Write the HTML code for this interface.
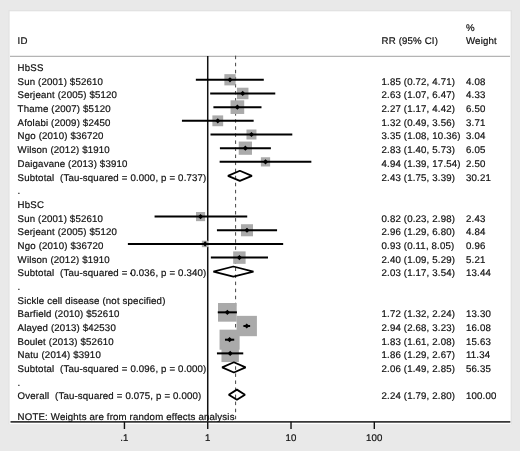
<!DOCTYPE html>
<html><head><meta charset="utf-8"><title>Forest plot</title><style>
html,body{margin:0;padding:0;background:#e9e9e9;overflow:hidden;}
svg{display:block;will-change:transform;}
text{-webkit-font-smoothing:antialiased;white-space:pre;}
</style></head><body>
<svg width="520" height="451" viewBox="0 0 520 451">
<g>
<rect x="0" y="0" width="520" height="451" fill="#e9e9e9"/>
<rect x="8.5" y="10" width="503.5" height="414.2" fill="#e2e2e2"/>
<rect x="9.6" y="11.3" width="501" height="412.9" fill="#ffffff"/>
<line x1="10" y1="56.3" x2="510" y2="56.3" stroke="#b4b4b4" stroke-width="1.2"/>
<line x1="207.73" y1="56" x2="207.73" y2="422" stroke="#111" stroke-width="1.5"/>
<line x1="235.6" y1="55.7" x2="235.6" y2="421" stroke="#444" stroke-width="1.0" stroke-dasharray="3.5 3.56"/>
<rect x="206.9" y="241" width="1.8" height="6" fill="#fff"/>
<g fill="#aaaaaa"><rect x="224.37" y="74.16" width="11.23" height="11.23"/><rect x="236.95" y="87.71" width="11.51" height="11.51"/><rect x="230.56" y="100.31" width="13.65" height="13.65"/><rect x="212.37" y="115.42" width="10.80" height="10.80"/><rect x="246.48" y="129.52" width="9.97" height="9.97"/><rect x="238.74" y="141.56" width="13.24" height="13.24"/><rect x="260.90" y="157.25" width="9.23" height="9.23"/><rect x="195.99" y="212.02" width="9.12" height="9.12"/><rect x="240.96" y="224.23" width="12.05" height="12.05"/><rect x="201.87" y="240.70" width="6.48" height="6.48"/><rect x="233.18" y="251.40" width="12.43" height="12.43"/><rect x="218.01" y="303.01" width="18.67" height="18.67"/><rect x="236.58" y="315.86" width="20.33" height="20.33"/><rect x="219.56" y="329.67" width="20.07" height="20.07"/><rect x="221.48" y="344.69" width="17.39" height="17.39"/></g>
<g stroke="#000" stroke-width="2"><line x1="195.85" y1="79.78" x2="263.79" y2="79.78"/><line x1="210.18" y1="93.46" x2="275.27" y2="93.46"/><line x1="213.41" y1="107.14" x2="261.49" y2="107.14"/><line x1="181.93" y1="120.82" x2="253.66" y2="120.82"/><line x1="210.51" y1="134.50" x2="292.30" y2="134.50"/><line x1="219.90" y1="148.18" x2="270.88" y2="148.18"/><line x1="219.64" y1="161.86" x2="311.35" y2="161.86"/><line x1="154.57" y1="216.58" x2="247.23" y2="216.58"/><line x1="216.94" y1="230.26" x2="277.07" y2="230.26"/><line x1="127.89" y1="243.94" x2="283.17" y2="243.94"/><line x1="210.85" y1="257.62" x2="267.99" y2="257.62"/><line x1="217.77" y1="312.34" x2="236.90" y2="312.34"/><line x1="243.39" y1="326.02" x2="250.14" y2="326.02"/><line x1="224.96" y1="339.70" x2="234.22" y2="339.70"/><line x1="216.94" y1="353.38" x2="243.25" y2="353.38"/></g>
<g fill="#000"><path d="M227.38 79.78L229.98 77.18L232.58 79.78L229.98 82.38Z"/><path d="M240.11 93.46L242.71 90.86L245.31 93.46L242.71 96.06Z"/><path d="M234.78 107.14L237.38 104.54L239.98 107.14L237.38 109.74Z"/><path d="M215.17 120.82L217.77 118.22L220.37 120.82L217.77 123.42Z"/><path d="M248.86 134.50L251.46 131.90L254.06 134.50L251.46 137.10Z"/><path d="M242.76 148.18L245.36 145.58L247.96 148.18L245.36 150.78Z"/><path d="M262.91 161.86L265.51 159.26L268.11 161.86L265.51 164.46Z"/><path d="M197.95 216.58L200.55 213.98L203.15 216.58L200.55 219.18Z"/><path d="M244.38 230.26L246.98 227.66L249.58 230.26L246.98 232.86Z"/><path d="M202.50 243.94L205.10 241.34L207.70 243.94L205.10 246.54Z"/><path d="M236.80 257.62L239.40 255.02L242.00 257.62L239.40 260.22Z"/><path d="M224.75 312.34L227.35 309.74L229.95 312.34L227.35 314.94Z"/><path d="M244.14 326.02L246.74 323.42L249.34 326.02L246.74 328.62Z"/><path d="M226.99 339.70L229.59 337.10L232.19 339.70L229.59 342.30Z"/><path d="M227.58 353.38L230.18 350.78L232.78 353.38L230.18 355.98Z"/></g>
<g fill="none" stroke="#000" stroke-width="1.8" stroke-linejoin="bevel"><path d="M227.97 175.84L239.85 170.74L251.89 175.84L239.85 180.94Z"/><path d="M213.41 271.60L233.34 266.50L253.46 271.60L233.34 276.70Z"/><path d="M222.15 367.36L233.87 362.26L245.61 367.36L233.87 372.46Z"/><path d="M228.79 394.72L236.90 389.62L244.97 394.72L236.90 399.82Z"/></g>
<circle cx="130.9" cy="273.4" r="0.9" fill="#111"/>
<line x1="10.5" y1="421.8" x2="510.3" y2="421.8" stroke="#383838" stroke-width="1.8"/>
<g stroke="#111" stroke-width="1.4"><line x1="124.44" y1="421.8" x2="124.44" y2="429"/><line x1="207.73" y1="421.8" x2="207.73" y2="429"/><line x1="291.02" y1="421.8" x2="291.02" y2="429"/><line x1="374.31" y1="421.8" x2="374.31" y2="429"/></g>
<g class="t" font-family="Liberation Sans, sans-serif" font-size="9.7" letter-spacing="0.15" fill="#111" stroke="#111" stroke-width="0.2">
<text x="17.60" y="71.10" transform="translate(0 71.10) skewX(0.3) translate(0 -71.10)">HbSS</text>
<text x="17.60" y="84.78" transform="translate(0 84.78) skewX(0.3) translate(0 -84.78)">Sun (2001) $52610</text>
<text x="381.50" y="84.78" transform="translate(0 84.78) skewX(0.3) translate(0 -84.78)">1.85 (0.72, 4.71)</text>
<text x="466.00" y="84.78" transform="translate(0 84.78) skewX(0.3) translate(0 -84.78)">4.08</text>
<text x="17.60" y="98.46" transform="translate(0 98.46) skewX(0.3) translate(0 -98.46)">Serjeant (2005) $5120</text>
<text x="381.50" y="98.46" transform="translate(0 98.46) skewX(0.3) translate(0 -98.46)">2.63 (1.07, 6.47)</text>
<text x="466.00" y="98.46" transform="translate(0 98.46) skewX(0.3) translate(0 -98.46)">4.33</text>
<text x="17.60" y="112.14" transform="translate(0 112.14) skewX(0.3) translate(0 -112.14)">Thame (2007) $5120</text>
<text x="381.50" y="112.14" transform="translate(0 112.14) skewX(0.3) translate(0 -112.14)">2.27 (1.17, 4.42)</text>
<text x="466.00" y="112.14" transform="translate(0 112.14) skewX(0.3) translate(0 -112.14)">6.50</text>
<text x="17.60" y="125.82" transform="translate(0 125.82) skewX(0.3) translate(0 -125.82)">Afolabi (2009) $2450</text>
<text x="381.50" y="125.82" transform="translate(0 125.82) skewX(0.3) translate(0 -125.82)">1.32 (0.49, 3.56)</text>
<text x="466.00" y="125.82" transform="translate(0 125.82) skewX(0.3) translate(0 -125.82)">3.71</text>
<text x="17.60" y="139.50" transform="translate(0 139.50) skewX(0.3) translate(0 -139.50)">Ngo (2010) $36720</text>
<text x="381.50" y="139.50" transform="translate(0 139.50) skewX(0.3) translate(0 -139.50)">3.35 (1.08, 10.36)</text>
<text x="466.00" y="139.50" transform="translate(0 139.50) skewX(0.3) translate(0 -139.50)">3.04</text>
<text x="17.60" y="153.18" transform="translate(0 153.18) skewX(0.3) translate(0 -153.18)">Wilson (2012) $1910</text>
<text x="381.50" y="153.18" transform="translate(0 153.18) skewX(0.3) translate(0 -153.18)">2.83 (1.40, 5.73)</text>
<text x="466.00" y="153.18" transform="translate(0 153.18) skewX(0.3) translate(0 -153.18)">6.05</text>
<text x="17.60" y="166.86" transform="translate(0 166.86) skewX(0.3) translate(0 -166.86)">Daigavane (2013) $3910</text>
<text x="381.50" y="166.86" transform="translate(0 166.86) skewX(0.3) translate(0 -166.86)">4.94 (1.39, 17.54)</text>
<text x="466.00" y="166.86" transform="translate(0 166.86) skewX(0.3) translate(0 -166.86)">2.50</text>
<text x="17.60" y="180.54" transform="translate(0 180.54) skewX(0.3) translate(0 -180.54)">Subtotal&#160; (Tau-squared = 0.000, p = 0.737)</text>
<text x="381.50" y="180.54" transform="translate(0 180.54) skewX(0.3) translate(0 -180.54)">2.43 (1.75, 3.39)</text>
<text x="466.00" y="180.54" transform="translate(0 180.54) skewX(0.3) translate(0 -180.54)">30.21</text>
<text x="17.60" y="194.22" transform="translate(0 194.22) skewX(0.3) translate(0 -194.22)">.</text>
<text x="17.60" y="207.90" transform="translate(0 207.90) skewX(0.3) translate(0 -207.90)">HbSC</text>
<text x="17.60" y="221.58" transform="translate(0 221.58) skewX(0.3) translate(0 -221.58)">Sun (2001) $52610</text>
<text x="381.50" y="221.58" transform="translate(0 221.58) skewX(0.3) translate(0 -221.58)">0.82 (0.23, 2.98)</text>
<text x="466.00" y="221.58" transform="translate(0 221.58) skewX(0.3) translate(0 -221.58)">2.43</text>
<text x="17.60" y="235.26" transform="translate(0 235.26) skewX(0.3) translate(0 -235.26)">Serjeant (2005) $5120</text>
<text x="381.50" y="235.26" transform="translate(0 235.26) skewX(0.3) translate(0 -235.26)">2.96 (1.29, 6.80)</text>
<text x="466.00" y="235.26" transform="translate(0 235.26) skewX(0.3) translate(0 -235.26)">4.84</text>
<text x="17.60" y="248.94" transform="translate(0 248.94) skewX(0.3) translate(0 -248.94)">Ngo (2010) $36720</text>
<text x="381.50" y="248.94" transform="translate(0 248.94) skewX(0.3) translate(0 -248.94)">0.93 (0.11, 8.05)</text>
<text x="466.00" y="248.94" transform="translate(0 248.94) skewX(0.3) translate(0 -248.94)">0.96</text>
<text x="17.60" y="262.62" transform="translate(0 262.62) skewX(0.3) translate(0 -262.62)">Wilson (2012) $1910</text>
<text x="381.50" y="262.62" transform="translate(0 262.62) skewX(0.3) translate(0 -262.62)">2.40 (1.09, 5.29)</text>
<text x="466.00" y="262.62" transform="translate(0 262.62) skewX(0.3) translate(0 -262.62)">5.21</text>
<text x="17.60" y="276.30" transform="translate(0 276.30) skewX(0.3) translate(0 -276.30)">Subtotal&#160; (Tau-squared = 0.036, p = 0.340)</text>
<text x="381.50" y="276.30" transform="translate(0 276.30) skewX(0.3) translate(0 -276.30)">2.03 (1.17, 3.54)</text>
<text x="466.00" y="276.30" transform="translate(0 276.30) skewX(0.3) translate(0 -276.30)">13.44</text>
<text x="17.60" y="289.98" transform="translate(0 289.98) skewX(0.3) translate(0 -289.98)">.</text>
<text x="17.60" y="303.66" transform="translate(0 303.66) skewX(0.3) translate(0 -303.66)">Sickle cell disease (not specified)</text>
<text x="17.60" y="317.34" transform="translate(0 317.34) skewX(0.3) translate(0 -317.34)">Barfield (2010) $52610</text>
<text x="381.50" y="317.34" transform="translate(0 317.34) skewX(0.3) translate(0 -317.34)">1.72 (1.32, 2.24)</text>
<text x="466.00" y="317.34" transform="translate(0 317.34) skewX(0.3) translate(0 -317.34)">13.30</text>
<text x="17.60" y="331.02" transform="translate(0 331.02) skewX(0.3) translate(0 -331.02)">Alayed (2013) $42530</text>
<text x="381.50" y="331.02" transform="translate(0 331.02) skewX(0.3) translate(0 -331.02)">2.94 (2.68, 3.23)</text>
<text x="466.00" y="331.02" transform="translate(0 331.02) skewX(0.3) translate(0 -331.02)">16.08</text>
<text x="17.60" y="344.70" transform="translate(0 344.70) skewX(0.3) translate(0 -344.70)">Boulet (2013) $52610</text>
<text x="381.50" y="344.70" transform="translate(0 344.70) skewX(0.3) translate(0 -344.70)">1.83 (1.61, 2.08)</text>
<text x="466.00" y="344.70" transform="translate(0 344.70) skewX(0.3) translate(0 -344.70)">15.63</text>
<text x="17.60" y="358.38" transform="translate(0 358.38) skewX(0.3) translate(0 -358.38)">Natu (2014) $3910</text>
<text x="381.50" y="358.38" transform="translate(0 358.38) skewX(0.3) translate(0 -358.38)">1.86 (1.29, 2.67)</text>
<text x="466.00" y="358.38" transform="translate(0 358.38) skewX(0.3) translate(0 -358.38)">11.34</text>
<text x="17.60" y="372.06" transform="translate(0 372.06) skewX(0.3) translate(0 -372.06)">Subtotal&#160; (Tau-squared = 0.096, p = 0.000)</text>
<text x="381.50" y="372.06" transform="translate(0 372.06) skewX(0.3) translate(0 -372.06)">2.06 (1.49, 2.85)</text>
<text x="466.00" y="372.06" transform="translate(0 372.06) skewX(0.3) translate(0 -372.06)">56.35</text>
<text x="17.60" y="385.74" transform="translate(0 385.74) skewX(0.3) translate(0 -385.74)">.</text>
<text x="17.60" y="399.42" transform="translate(0 399.42) skewX(0.3) translate(0 -399.42)">Overall&#160; (Tau-squared = 0.075, p = 0.000)</text>
<text x="381.50" y="399.42" transform="translate(0 399.42) skewX(0.3) translate(0 -399.42)">2.24 (1.79, 2.80)</text>
<text x="466.00" y="399.42" transform="translate(0 399.42) skewX(0.3) translate(0 -399.42)">100.00</text>
<text x="17.60" y="44.50" transform="translate(0 44.50) skewX(0.3) translate(0 -44.50)">ID</text>
<text x="381.50" y="44.50" transform="translate(0 44.50) skewX(0.3) translate(0 -44.50)">RR (95% CI)</text>
<text x="466.00" y="30.90" transform="translate(0 30.90) skewX(0.3) translate(0 -30.90)">%</text>
<text x="466.00" y="44.50" transform="translate(0 44.50) skewX(0.3) translate(0 -44.50)">Weight</text>
<text x="17.60" y="419.90" transform="translate(0 419.90) skewX(0.3) translate(0 -419.90)">NOTE: Weights are from random effects analysis</text>
<text x="124.44" y="441.00" text-anchor="middle" transform="translate(0 441.00) skewX(0.3) translate(0 -441.00)">.1</text>
<text x="207.73" y="441.00" text-anchor="middle" transform="translate(0 441.00) skewX(0.3) translate(0 -441.00)">1</text>
<text x="291.02" y="441.00" text-anchor="middle" transform="translate(0 441.00) skewX(0.3) translate(0 -441.00)">10</text>
<text x="374.31" y="441.00" text-anchor="middle" transform="translate(0 441.00) skewX(0.3) translate(0 -441.00)">100</text>
</g>
</g>
</svg>
</body></html>
